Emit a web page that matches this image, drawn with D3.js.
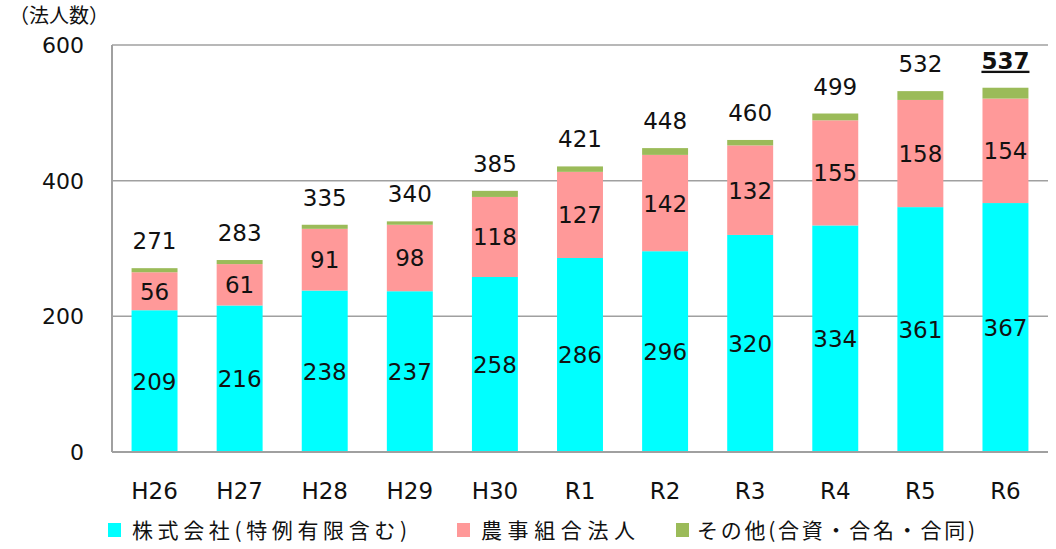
<!DOCTYPE html>
<html>
<head>
<meta charset="utf-8">
<script src="https://cdn.jsdelivr.net/npm/d3@7"></script>
<style>
  body { margin: 0; background: #fff; }
  text { font-family: "DejaVu Sans", "Noto Sans CJK JP", sans-serif; fill: #111; }
  .jp { font-family: "Noto Sans CJK JP", sans-serif; }
</style>
</head>
<body>
<div id="chart"></div>
<script>
// data
var years = ["H26", "H27", "H28", "H29", "H30", "R1", "R2", "R3", "R4", "R5", "R6"];
var kabushiki = [209, 216, 238, 237, 258, 286, 296, 320, 334, 361, 367];
var nouji = [56, 61, 91, 98, 118, 127, 142, 132, 155, 158, 154];
var sonota = [6, 6, 6, 5, 9, 8, 10, 8, 10, 13, 16];
var totals = [271, 283, 335, 340, 385, 421, 448, 460, 499, 532, 537];
var yTicks = [0, 200, 400, 600];
var seriesNames = ["株式会社(特例有限含む)", "農事組合法人", "その他(合資・合名・合同)"];
var colors = ["#00FFFF", "#FF9999", "#9BBB59"];

var svgWidth = 1056;
var svgHeight = 549;
var margin = { top: 45, right: 8, bottom: 97, left: 112 };
var width = svgWidth - margin.left - margin.right;
var height = svgHeight - margin.top - margin.bottom;

var svg = d3.select("#chart").append("svg")
  .attr("width", svgWidth)
  .attr("height", svgHeight);

var chartGroup = svg.append("g")
  .attr("transform", `translate(${margin.left}, ${margin.top})`);

var x = d3.scaleBand().domain(years).range([0, width]).paddingInner(0.46).paddingOuter(0.23);
var y = d3.scaleLinear().domain([0, 600]).range([height, 0]);

// gridlines
chartGroup.append("g")
  .selectAll("line")
  .data(yTicks.filter(d => d > 0))
  .enter()
  .append("line")
  .attr("x1", 0).attr("x2", width)
  .attr("y1", d => y(d)).attr("y2", d => y(d))
  .attr("stroke", "#a0a0a0")
  .attr("stroke-width", 1.5);

// stacked bars
var rows = years.map(function(yr, i) {
  return { year: yr, a: kabushiki[i], b: nouji[i], c: sonota[i], total: totals[i] };
});
var stack = d3.stack().keys(["a", "b", "c"]);
var layers = stack(rows);

chartGroup.append("g")
  .selectAll("g")
  .data(layers)
  .enter()
  .append("g")
  .attr("fill", (d, i) => colors[i])
  .selectAll("rect")
  .data(d => d)
  .enter()
  .append("rect")
  .attr("x", d => x(d.data.year))
  .attr("width", x.bandwidth())
  .attr("y", d => y(d[1]))
  .attr("height", d => y(d[0]) - y(d[1]));

// axes lines
chartGroup.append("line")
  .attr("x1", 0).attr("x2", 0).attr("y1", 0).attr("y2", height)
  .attr("stroke", "#a0a0a0").attr("stroke-width", 2);
chartGroup.append("line")
  .attr("x1", 0).attr("x2", width).attr("y1", height).attr("y2", height)
  .attr("stroke", "#a0a0a0").attr("stroke-width", 2);

// y tick labels
chartGroup.append("g")
  .selectAll("text")
  .data(yTicks)
  .enter()
  .append("text")
  .attr("x", -28)
  .attr("y", d => y(d) + 8)
  .attr("text-anchor", "end")
  .attr("font-size", "22px")
  .text(d => d);

// x labels
chartGroup.append("g")
  .selectAll("text")
  .data(years)
  .enter()
  .append("text")
  .attr("x", d => x(d) + x.bandwidth() / 2)
  .attr("y", height + 47)
  .attr("text-anchor", "middle")
  .attr("font-size", "23px")
  .text(d => d);

// segment labels (first two series)
layers.slice(0, 2).forEach(function(layer) {
  chartGroup.append("g")
    .selectAll("text")
    .data(layer)
    .enter()
    .append("text")
    .attr("x", d => x(d.data.year) + x.bandwidth() / 2)
    .attr("y", d => y((d[0] + d[1]) / 2) + 8.5)
    .attr("text-anchor", "middle")
    .attr("font-size", "23px")
    .text(d => d[1] - d[0]);
});

// totals
chartGroup.append("g")
  .selectAll("text")
  .data(rows)
  .enter()
  .append("text")
  .attr("x", d => x(d.year) + x.bandwidth() / 2)
  .attr("y", d => y(d.total) - 19)
  .attr("text-anchor", "middle")
  .attr("font-size", "23px")
  .style("font-weight", (d, i) => i === rows.length - 1 ? "bold" : "normal")
  .style("text-decoration", (d, i) => i === rows.length - 1 ? "underline" : "none")
  .text(d => d.total);

// unit label
svg.append("text")
  .attr("class", "jp")
  .attr("x", 9)
  .attr("y", 23)
  .attr("font-size", "20px")
  .text("（法人数）");

// legend
var legendX = [108, 457, 676];
var legendW = [275, 154, 278];
var legend = svg.append("g")
  .selectAll("g")
  .data(seriesNames)
  .enter()
  .append("g")
  .attr("transform", (d, i) => `translate(${legendX[i]}, 530)`);
legend.append("rect")
  .attr("x", 0).attr("y", -7).attr("width", 13).attr("height", 14)
  .attr("fill", (d, i) => colors[i]);
legend.append("text")
  .attr("class", "jp")
  .attr("x", (d, i) => i === 2 ? 21 : 24)
  .attr("y", 7.5)
  .attr("font-size", "21px")
  .attr("textLength", (d, i) => legendW[i])
  .attr("lengthAdjust", "spacing")
  .text(d => d);
</script>
</body>
</html>
